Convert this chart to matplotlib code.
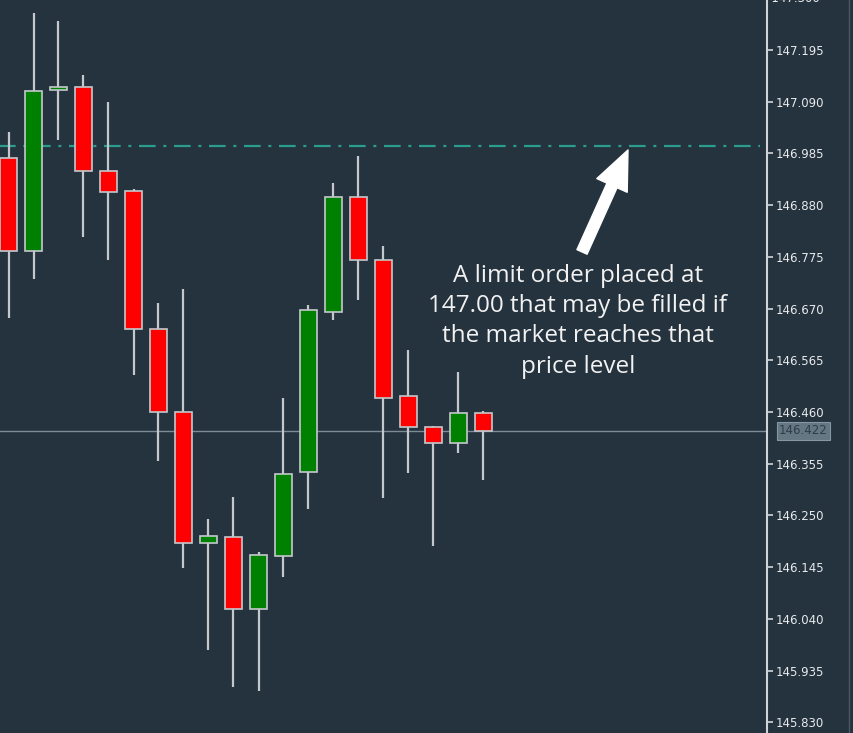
import matplotlib
matplotlib.use("Agg")
import matplotlib.pyplot as plt
from matplotlib.patches import Rectangle
from matplotlib.lines import Line2D
import matplotlib.transforms as mtransforms

# ---- data ----
opens  = [146.976, 146.787, 147.114, 147.120, 146.949, 146.909, 146.628, 146.460, 146.194, 146.206,
          146.060, 146.168, 146.338, 146.663, 146.897, 146.769, 146.492, 146.430, 146.397, 146.458]
highs  = [147.028, 147.270, 147.254, 147.144, 147.089, 146.913, 146.681, 146.710, 146.243, 146.287,
          146.176, 146.488, 146.677, 146.925, 146.980, 146.797, 146.586, 146.432, 146.541, 146.462]
lows   = [146.651, 146.730, 147.012, 146.815, 146.769, 146.535, 146.360, 146.143, 145.977, 145.902,
          145.894, 146.125, 146.263, 146.647, 146.687, 146.285, 146.336, 146.188, 146.377, 146.322]
closes = [146.787, 147.112, 147.120, 146.949, 146.907, 146.628, 146.460, 146.194, 146.208, 146.060,
          146.170, 146.334, 146.667, 146.897, 146.769, 146.488, 146.430, 146.397, 146.458, 146.422]
tick_values = [145.830, 145.935, 146.040, 146.145, 146.250, 146.355, 146.460, 146.565,
               146.670, 146.775, 146.880, 146.985, 147.090, 147.195]
top_label = 147.300
limit_price = 147.00
current_price = 146.422
annotation = "A limit order placed at\n147.00 that may be filled if\nthe market reaches that\nprice level"

BG = "#25333e"
W, H = 854, 733
fig = plt.figure(figsize=(W / 100, H / 100), dpi=100, facecolor=BG)
ax = fig.add_axes([0, 0, 767 / W, 1])
ax.set_facecolor(BG)

px_per_unit = 492.5
ymax = 147.195 + 50 / px_per_unit
ymin = 147.195 - (H - 50) / px_per_unit
ax.set_ylim(ymin, ymax)
ax.set_xlim(-8.5 / 25, (767 - 8.5) / 25)

# current price line
ax.axhline(current_price, color="#7d8b96", lw=1.0, zorder=1)

# limit line (dash-dot)
plt.rcParams['lines.scale_dashes'] = False
ax.plot([-1, (760 - 8.5) / 25], [limit_price, limit_price], color="#2a9d8f", lw=1.6,
        linestyle=(0, (12.0, 5.5, 2.2, 5.5)), zorder=1)

bw = 0.68
for i, (o, h, l, c) in enumerate(zip(opens, highs, lows, closes)):
    ax.plot([i, i], [l, h], color="#c4c8cc", lw=1.6, zorder=2, solid_capstyle="butt")
    col = "#008000" if c >= o else "#ff0000"
    lo, hi = min(o, c), max(o, c)
    ax.add_patch(Rectangle((i - bw / 2, lo), bw, hi - lo, facecolor=col,
                           edgecolor="#c4c8cc", lw=1.2, zorder=3))

# axis styling
for s in ["left", "top", "bottom"]:
    ax.spines[s].set_visible(False)
ax.spines["right"].set_color("#d0d4d8")
ax.spines["right"].set_linewidth(1.5)
ax.set_xticks([])
ax.yaxis.tick_right()
ax.set_yticks(tick_values)
ax.set_yticklabels([f"{v:.3f}" for v in tick_values])
ax.tick_params(axis="y", colors="#d0d4d8", labelcolor="#e8eaec", length=4, width=1.2,
               direction="out", pad=2, labelsize=8.5)

trans = mtransforms.blended_transform_factory(ax.transAxes, ax.transData)
ax.text(1.0, top_label, "-" + f"{top_label:.3f}", transform=trans, color="#e8eaec",
        fontsize=8.5, va="center", ha="left", clip_on=False)

# current price box
ax.text(1.0 + 36.5 / 767, current_price, f"{current_price:.3f}", transform=trans,
        color="#2e3c47", fontsize=8.5, va="center", ha="center", clip_on=False,
        bbox=dict(boxstyle="square,pad=0.2", facecolor="#667784", edgecolor="#8696a2", lw=0.8))

# right border
fig.add_artist(Line2D([849 / W, 849 / W], [0, 1], color="#4a5863", lw=1.0))

# arrow + annotation
ax.annotate("", xy=((628 - 8.5) / 25, 146.992), xytext=((582 - 8.5) / 25, 146.785),
            arrowprops=dict(arrowstyle="simple,head_width=2.4,head_length=2.8,tail_width=0.8",
                            facecolor="white", edgecolor="white", mutation_scale=10, shrinkA=0, shrinkB=0))
ax.text((578 - 8.5) / 25, 146.644, annotation, color="#f2f2f2", fontsize=17.5, family="Open Sans",
        ha="center", va="center", linespacing=1.34)

fig.savefig("out.png", dpi=100, facecolor=BG)
